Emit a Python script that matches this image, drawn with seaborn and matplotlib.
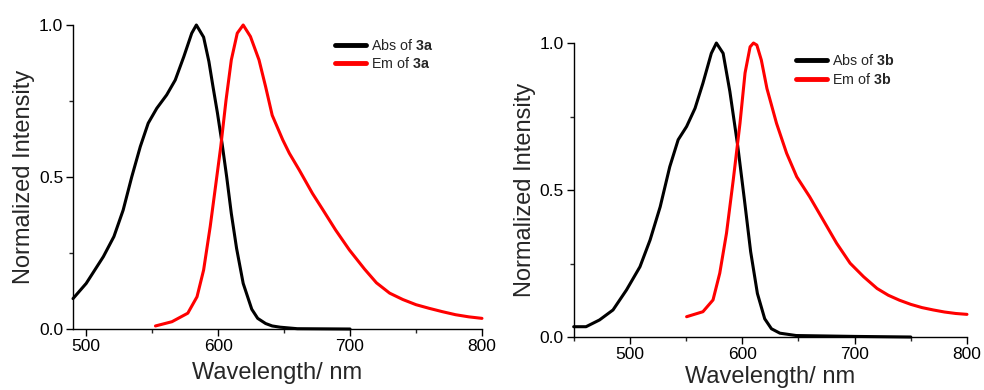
import numpy as np
import pandas as pd
import matplotlib
matplotlib.use("Agg")
import matplotlib.pyplot as plt
from matplotlib.ticker import MultipleLocator
import seaborn as sns

sns.set_theme(style="white")
plt.rcParams['font.family'] = ['Liberation Sans', 'DejaVu Sans']
plt.rcParams['mathtext.fontset'] = 'custom'
plt.rcParams['mathtext.rm'] = 'Liberation Sans'
plt.rcParams['mathtext.bf'] = 'Liberation Sans:bold'

# 3a absorption / emission (wavelength in nm, normalized intensity)
abs_3a_x = [490, 500, 513, 521, 528, 534.5, 541, 547, 553.5, 561, 567.5, 574, 580, 583.5,
            589, 593, 596, 599.5, 603, 606.5, 610, 614, 619, 625.5, 630, 636, 641, 647, 660, 700]
abs_3a_y = [0.10, 0.15, 0.238, 0.304, 0.391, 0.50, 0.60, 0.677, 0.726, 0.77, 0.819, 0.896, 0.973, 1.0,
            0.96, 0.88, 0.80, 0.71, 0.61, 0.50, 0.38, 0.265, 0.15, 0.065, 0.035, 0.018, 0.01, 0.006, 0.001, 0.0]
em_3a_x = [552.5, 565, 577, 584, 589, 594, 598, 602, 606, 610, 614.5, 619, 624.5, 631, 636, 641,
           649, 654, 661.5, 671.5, 679, 689, 699.5, 711, 720, 730, 740, 750, 760, 770, 780, 790, 800]
em_3a_y = [0.01, 0.024, 0.052, 0.106, 0.194, 0.337, 0.468, 0.60, 0.753, 0.885, 0.973, 1.0, 0.962, 0.885, 0.797, 0.703,
           0.622, 0.578, 0.523, 0.446, 0.395, 0.326, 0.26, 0.197, 0.152, 0.118, 0.097, 0.08, 0.068, 0.057, 0.047, 0.04, 0.035]

# 3b absorption / emission
abs_3b_x = [450, 461, 473, 485, 497, 509, 518, 527, 535.5, 543, 550.5, 558, 565, 572.5, 577,
            583, 589, 596, 602, 607.5, 613.5, 620, 626, 633.5, 648, 700, 750]
abs_3b_y = [0.035, 0.035, 0.058, 0.092, 0.16, 0.239, 0.33, 0.443, 0.579, 0.671, 0.716, 0.778, 0.863, 0.965, 1.0,
            0.965, 0.835, 0.65, 0.465, 0.29, 0.148, 0.062, 0.028, 0.013, 0.005, 0.002, 0.0]
em_3b_x = [550.5, 565, 574, 580, 586, 592, 598, 602.5, 607, 610, 613, 617, 622, 630.5, 639.5, 648.5,
           660, 672, 684, 696, 708, 720, 730, 740, 750, 760, 770, 780, 790, 800]
em_3b_y = [0.069, 0.086, 0.126, 0.217, 0.353, 0.534, 0.727, 0.898, 0.987, 1.0, 0.993, 0.942, 0.845, 0.727, 0.625, 0.545,
           0.477, 0.398, 0.319, 0.251, 0.205, 0.165, 0.142, 0.125, 0.111, 0.1, 0.092, 0.085, 0.08, 0.077]

panels = [
    dict(rect=[0.0742, 0.1564, 0.4156, 0.7795], xlim=(490, 800), name='3a',
         abs=(abs_3a_x, abs_3a_y), em=(em_3a_x, em_3a_y), leg=(0.626, 0.977), xpad=6),
    dict(rect=[0.583, 0.1359, 0.3997, 0.7538], xlim=(450, 800), name='3b',
         abs=(abs_3b_x, abs_3b_y), em=(em_3b_x, em_3b_y), leg=(0.55, 0.986), xpad=3),
]

fig = plt.figure(figsize=(9.84, 3.9), dpi=100)

for p in panels:
    ax = fig.add_axes(p['rect'])
    df_abs = pd.DataFrame({'wl': p['abs'][0], 'I': p['abs'][1]})
    df_em = pd.DataFrame({'wl': p['em'][0], 'I': p['em'][1]})
    sns.lineplot(data=df_abs, x='wl', y='I', ax=ax, color='black', lw=2.2,
                 label=r'Abs of $\mathbf{%s}$' % p['name'], clip_on=False)
    sns.lineplot(data=df_em, x='wl', y='I', ax=ax, color='#ff0000', lw=2.2,
                 label=r'Em of $\mathbf{%s}$' % p['name'], clip_on=False)

    ax.set_xlim(*p['xlim'])
    ax.set_ylim(0, 1.0)
    ax.xaxis.set_major_locator(MultipleLocator(100))
    ax.xaxis.set_minor_locator(MultipleLocator(50))
    ax.yaxis.set_major_locator(MultipleLocator(0.5))
    ax.yaxis.set_minor_locator(MultipleLocator(0.25))
    ax.yaxis.set_major_formatter(plt.FormatStrFormatter('%.1f'))
    ax.tick_params(which='major', direction='out', length=5, width=1, labelsize=12.5,
                   bottom=True, left=True, colors='black', pad=2)
    ax.tick_params(which='minor', direction='out', length=3, width=1, bottom=True, left=True)
    for s in ['top', 'right']:
        ax.spines[s].set_visible(False)
    for s in ['left', 'bottom']:
        ax.spines[s].set_color('black')
        ax.spines[s].set_linewidth(1)

    ax.set_xlabel('Wavelength/ nm', fontsize=17, labelpad=p['xpad'])
    ax.set_ylabel('Normalized Intensity', fontsize=17, labelpad=3)

    leg = ax.legend(loc='upper left', bbox_to_anchor=p['leg'], frameon=False,
                    fontsize=10.3, handlelength=2.2, handletextpad=0.35,
                    labelspacing=0.26, borderaxespad=0)
    for h in leg.get_lines():
        h.set_linewidth(3.5)

fig.savefig('out.png', dpi=100)
